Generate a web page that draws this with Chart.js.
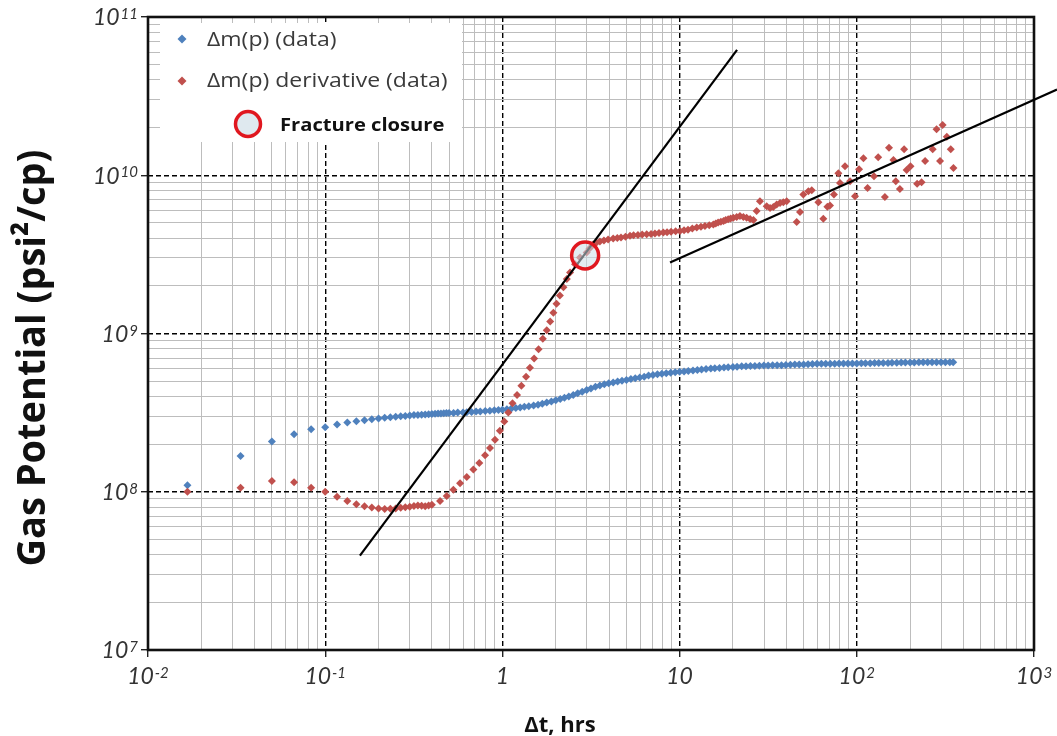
<!DOCTYPE html>
<html>
<head>
<meta charset="utf-8">
<script src="https://cdn.jsdelivr.net/npm/chart.js@4/dist/chart.umd.min.js"></script>
<style>
html,body{margin:0;padding:0;background:#fff}
#wrap{width:1057px;height:736px;position:relative}
</style>
</head>
<body>
<div id="wrap"><canvas id="grafico"></canvas></div>
<script>
// datos (tiempo en hrs, potencial en psi^2/cp)
const tiempoDm=[0.0167,0.0333,0.05,0.0667,0.0833,0.1,0.1167,0.1333,0.15,0.1667,0.1833,0.2,0.2167,0.2333,0.25,0.2667,0.2833,0.3,0.3167,0.3333,0.35,0.3667,0.3833,0.4,0.4167,0.4333,0.45,0.4667,0.4833,0.5,
	0.53,0.56,0.6,0.63,0.67,0.71,0.75,0.8,0.85,0.9,0.95,
	1.0,1.06,1.12,1.19,1.26,1.33,1.41,1.5,1.59,1.68,1.78,1.89,2.0,2.12,2.24,2.37,2.51,2.66,2.82,2.99,3.16,3.35,3.55,3.76,3.98,4.22,4.47,4.73,5.01,5.31,5.62,5.96,6.31,6.68,7.08,7.5,7.94,8.41,8.91,9.44,
	10.0,10.6,11.2,11.9,12.6,13.3,14.1,15.0,15.8,16.8,17.8,18.8,20.0,21.1,22.4,23.7,25.1,26.6,28.2,29.9,31.6,33.5,35.5,37.6,39.8,42.2,44.7,47.3,50.1,53.1,56.2,59.6,63.1,66.8,70.8,75.0,79.4,84.1,89.1,94.4,
	100,106,112,119,126,133,141,150,158,168,178,188,200,211,224,237,251,266,282,299,316,335,350];
const valorDm=[1.10e8,1.68e8,2.08e8,2.31e8,2.48e8,2.56e8,2.66e8,2.74e8,2.79e8,2.83e8,2.87e8,2.90e8,2.93e8,2.96e8,2.98e8,3.00e8,3.01e8,3.03e8,3.05e8,3.06e8,3.07e8,3.08e8,3.09e8,3.10e8,3.11e8,3.12e8,3.12e8,3.13e8,3.14e8,3.14e8,
	3.15e8,3.17e8,3.17e8,3.18e8,3.19e8,3.21e8,3.22e8,3.24e8,3.25e8,3.27e8,3.29e8,
	3.30e8,3.32e8,3.35e8,3.38e8,3.41e8,3.44e8,3.47e8,3.51e8,3.55e8,3.60e8,3.66e8,3.72e8,3.78e8,3.85e8,3.92e8,4.00e8,4.09e8,4.19e8,4.29e8,4.40e8,4.50e8,4.61e8,4.70e8,4.78e8,4.85e8,4.91e8,4.97e8,5.03e8,5.09e8,5.15e8,5.22e8,5.28e8,5.33e8,5.42e8,5.47e8,5.52e8,5.56e8,5.61e8,5.65e8,5.70e8,
	5.73e8,5.76e8,5.80e8,5.84e8,5.88e8,5.92e8,5.96e8,6.00e8,6.03e8,6.06e8,6.09e8,6.12e8,6.15e8,6.17e8,6.20e8,6.22e8,6.24e8,6.24e8,6.26e8,6.27e8,6.28e8,6.29e8,6.30e8,6.31e8,6.33e8,6.35e8,6.36e8,6.37e8,6.38e8,6.40e8,6.41e8,6.43e8,6.44e8,6.44e8,6.45e8,6.45e8,6.46e8,6.46e8,6.46e8,6.47e8,
	6.47e8,6.48e8,6.49e8,6.49e8,6.50e8,6.50e8,6.51e8,6.52e8,6.53e8,6.54e8,6.55e8,6.56e8,6.56e8,6.56e8,6.57e8,6.57e8,6.57e8,6.57e8,6.57e8,6.57e8,6.57e8,6.57e8,6.57e8];

const tiempoDeriv=[0.0167,0.0333,0.05,0.0667,0.0833,0.1,0.1167,0.1333,0.15,0.1667,0.1833,0.2,0.2167,0.2333,0.25,0.2667,0.2833,0.3,0.3167,0.3333,0.35,0.3667,0.3833,0.4,
	0.445,0.485,0.529,0.577,0.629,0.686,0.741,0.798,0.851,0.908,0.968,1.025,1.08,1.14,1.21,1.28,1.36,1.43,1.51,1.60,1.69,1.78,1.86,1.94,2.02,2.11,2.21,2.31,2.41,2.57,2.74,2.99,3.1,3.25,
	3.4,3.55,3.74,3.95,4.22,4.45,4.67,4.95,5.25,5.5,5.82,6.15,6.52,6.9,7.26,7.65,8.09,8.5,8.95,9.5,10.05,10.6,11.15,11.8,12.5,13.2,13.9,14.7,15.5,16.0,16.5,17.1,17.7,18.2,18.8,19.4,20.1,21.0,21.9,22.9,23.9,25.0,26.1,
	27.2,28.4,31.0,32.4,33.8,35.3,36.9,38.5,40.2,45.8,47.8,49.9,53.3,55.7,60.7,64.7,68.2,70.6,74.3,78.7,80.4,85.8,91.6,97.7,103,109,115,125,132,144,152,161,166,175,185,191,201,219,232,243,268,282,295,305,322,339,351];
const valorDeriv=[1.00e8,1.06e8,1.17e8,1.15e8,1.06e8,1.00e8,9.31e7,8.75e7,8.34e7,8.10e7,7.94e7,7.83e7,7.78e7,7.80e7,7.85e7,7.92e7,7.98e7,8.05e7,8.12e7,8.18e7,8.15e7,8.10e7,8.18e7,8.27e7,
	8.75e7,9.40e7,1.03e8,1.13e8,1.24e8,1.38e8,1.52e8,1.70e8,1.89e8,2.13e8,2.43e8,2.78e8,3.17e8,3.62e8,4.09e8,4.68e8,5.33e8,6.07e8,6.95e8,7.96e8,9.28e8,1.05e9,1.19e9,1.35e9,1.54e9,1.74e9,1.96e9,2.21e9,2.43e9,2.74e9,3.02e9,3.25e9,3.45e9,3.65e9,
	3.76e9,3.82e9,3.87e9,3.93e9,3.98e9,4.01e9,4.04e9,4.09e9,4.14e9,4.17e9,4.19e9,4.22e9,4.24e9,4.26e9,4.28e9,4.31e9,4.34e9,4.37e9,4.40e9,4.42e9,4.45e9,4.49e9,4.53e9,4.60e9,4.67e9,4.72e9,4.77e9,4.83e9,4.89e9,4.95e9,5.02e9,5.08e9,5.14e9,5.21e9,5.28e9,5.33e9,5.39e9,5.45e9,5.52e9,5.45e9,5.39e9,5.30e9,5.21e9,
	5.94e9,6.86e9,6.38e9,6.22e9,6.30e9,6.53e9,6.69e9,6.75e9,6.86e9,5.07e9,5.85e9,7.55e9,7.93e9,8.05e9,6.76e9,5.31e9,6.32e9,6.44e9,7.55e9,1.03e10,8.94e9,1.14e10,9.16e9,7.38e9,1.09e10,1.28e10,8.32e9,9.85e9,1.30e10,7.29e9,1.49e10,1.25e10,9.16e9,8.20e9,1.46e10,1.08e10,1.14e10,8.85e9,9.04e9,1.23e10,1.46e10,1.95e10,1.23e10,2.08e10,1.75e10,1.46e10,1.11e10];

const cierreT=[2.93];
const cierreV=[3.11e9];
// rectas de pendiente 3/2 y 1/2
const recta1T=[0.157,21.1];
const recta1V=[3.95e7,6.2e10];
const recta2T=[8.83,1349];
const recta2V=[2.81e9,3.48e10];

const marcasX=[0.01,0.1,1,10,100,1000];
const etiquetasX=[['10','-2'],['10','-1'],['1',''],['10',''],['10','2'],['10','3']];
const marcasY=[1e7,1e8,1e9,1e10,1e11];
const etiquetasY=[['10','7'],['10','8'],['10','9'],['10','10'],['10','11']];

const azul='#4F81BD';
const rojo='#C0504D';

function puntos(xs,ys){
	return xs.map((x,i)=>({x:x,y:ys[i]}));
}

// lineas de la rejilla: decadas y subdivisiones 2..9
function rejilla(min,max){
	let lista=[];
	let e0=Math.round(Math.log10(min));
	let e1=Math.round(Math.log10(max));
	for(let e=e0;e<e1;e++){
		for(let k=1;k<10;k++){
			lista.push({value:k*Math.pow(10,e),major:k===1});
		}
	}
	lista.push({value:max,major:true});
	return lista;
}

function potencia(ctx,base,exp,x,y,alinea){
	ctx.font='italic 23px Lato';
	let wb=ctx.measureText(base).width;
	ctx.font='italic 15px Lato';
	let we=exp?ctx.measureText(exp).width+1:0;
	let total=wb+we;
	let x0=alinea==='right'?x-total:x-total/2;
	ctx.fillStyle='#333';
	ctx.textAlign='left';
	ctx.font='italic 23px Lato';
	ctx.textBaseline='middle';
	ctx.fillText(base,x0,y);
	if(exp){
		ctx.font='italic 15px Lato';
		ctx.textBaseline='alphabetic';
		ctx.fillText(exp,x0+wb+1,y+1);
	}
}

function textoAncho(ctx,txt,x,y,sx){
	ctx.save();
	ctx.translate(x,y);
	ctx.scale(sx,1);
	ctx.fillText(txt,0,0);
	ctx.restore();
}

function rombo(ctx,x,y,r,color){
	ctx.fillStyle=color;
	ctx.beginPath();
	ctx.moveTo(x,y-r);ctx.lineTo(x+r,y);ctx.lineTo(x,y+r);ctx.lineTo(x-r,y);
	ctx.closePath();
	ctx.fill();
}

const adornos={
	id:'adornos',
	beforeDatasetsDraw(chart){
		const ctx=chart.ctx;
		const a=chart.chartArea;
		ctx.save();
		ctx.strokeStyle='#111';
		ctx.lineWidth=2.6;
		ctx.strokeRect(a.left,a.top,a.right-a.left,a.bottom-a.top);
		// cuadro de leyenda
		ctx.fillStyle='#fff';
		ctx.fillRect(160,23,302,119);
		const ds=chart.data.datasets;
		rombo(ctx,182,39,4.5,azul);
		rombo(ctx,182,81,4.5,rojo);
		ctx.fillStyle='#3a3a3a';
		ctx.font='20px "Open Sans"';
		ctx.textBaseline='alphabetic';
		ctx.textAlign='left';
		textoAncho(ctx,ds[4].label,207,46,1.15);
		textoAncho(ctx,ds[3].label,207,87,1.15);
		ctx.beginPath();
		ctx.arc(248,124,12.5,0,Math.PI*2);
		ctx.fillStyle='#dfe9ef';
		ctx.fill();
		ctx.lineWidth=3.5;
		ctx.strokeStyle='#E0171F';
		ctx.stroke();
		ctx.fillStyle='#111';
		ctx.font='bold 18px "Open Sans"';
		textoAncho(ctx,ds[0].label,280,131,1.12);
		ctx.restore();
	},
	afterDraw(chart){
		const ctx=chart.ctx;
		const sx=chart.scales.x, sy=chart.scales.y;
		ctx.save();
		marcasX.forEach((v,i)=>{
			potencia(ctx,etiquetasX[i][0],etiquetasX[i][1],sx.getPixelForValue(v),677,'center');
		});
		marcasY.forEach((v,i)=>{
			potencia(ctx,etiquetasY[i][0],etiquetasY[i][1],138,sy.getPixelForValue(v)+1,'right');
		});
		// titulos de los ejes
		ctx.fillStyle='#111';
		ctx.textAlign='center';
		ctx.textBaseline='alphabetic';
		ctx.font='bold 22px "Open Sans"';
		ctx.fillText('Δt, hrs',560,732);
		ctx.translate(45,358);
		ctx.rotate(-Math.PI/2);
		ctx.font='bold 40px "Open Sans"';
		ctx.fillText('Gas Potential (psi²/cp)',0,0,417);
		ctx.restore();
	}
};

function ejeLog(min,max){
	return {
		type:'logarithmic',
		min:min,
		max:max,
		afterBuildTicks:(scale)=>{ scale.ticks=rejilla(min,max); },
		ticks:{display:false,autoSkip:false},
		grid:{
			color:c=>(c.tick&&c.tick.major)?'#000':'#bdbdbd',
			lineWidth:c=>(c.tick&&c.tick.major)?1.4:1,
			tickLength:7,
			tickColor:c=>(c.tick&&c.tick.major)?'#222':'rgba(0,0,0,0)'
		},
		border:{display:false,dash:c=>(c.tick&&c.tick.major)?[5,3]:[]}
	};
}

let G1=new Chart(document.getElementById('grafico').getContext('2d'),{
	type:'scatter',
	data:{
		datasets:[
			{
				label:'Fracture closure',
				data:puntos(cierreT,cierreV),
				pointStyle:'circle',
				pointRadius:13.5,
				pointBorderWidth:3.5,
				pointBorderColor:'#E0171F',
				pointBackgroundColor:'rgba(205,222,232,0.55)'
			},
			{
				label:'recta 1',
				data:puntos(recta1T,recta1V),
				showLine:true,
				borderColor:'#000',
				borderWidth:2.2,
				pointRadius:0
			},
			{
				label:'recta 2',
				data:puntos(recta2T,recta2V),
				showLine:true,
				borderColor:'#000',
				borderWidth:2.2,
				pointRadius:0,
				clip:false
			},
			{
				label:'Δm(p) derivative (data)',
				data:puntos(tiempoDeriv,valorDeriv),
				pointStyle:'rectRot',
				pointRadius:4,
				pointBorderWidth:0,
				pointBackgroundColor:rojo,
				pointBorderColor:rojo
			},
			{
				label:'Δm(p) (data)',
				data:puntos(tiempoDm,valorDm),
				pointStyle:'rectRot',
				pointRadius:4,
				pointBorderWidth:0,
				pointBackgroundColor:azul,
				pointBorderColor:azul
			}
		]
	},
	options:{
		responsive:true,
		maintainAspectRatio:false,
		animation:false,
		events:[],
		layout:{padding:{left:141,top:13,right:23,bottom:79}},
		plugins:{legend:{display:false},tooltip:{enabled:false}},
		scales:{
			x:ejeLog(0.01,1000),
			y:ejeLog(1e7,1e11)
		}
	},
	plugins:[adornos]
});
</script>
</body>
</html>
